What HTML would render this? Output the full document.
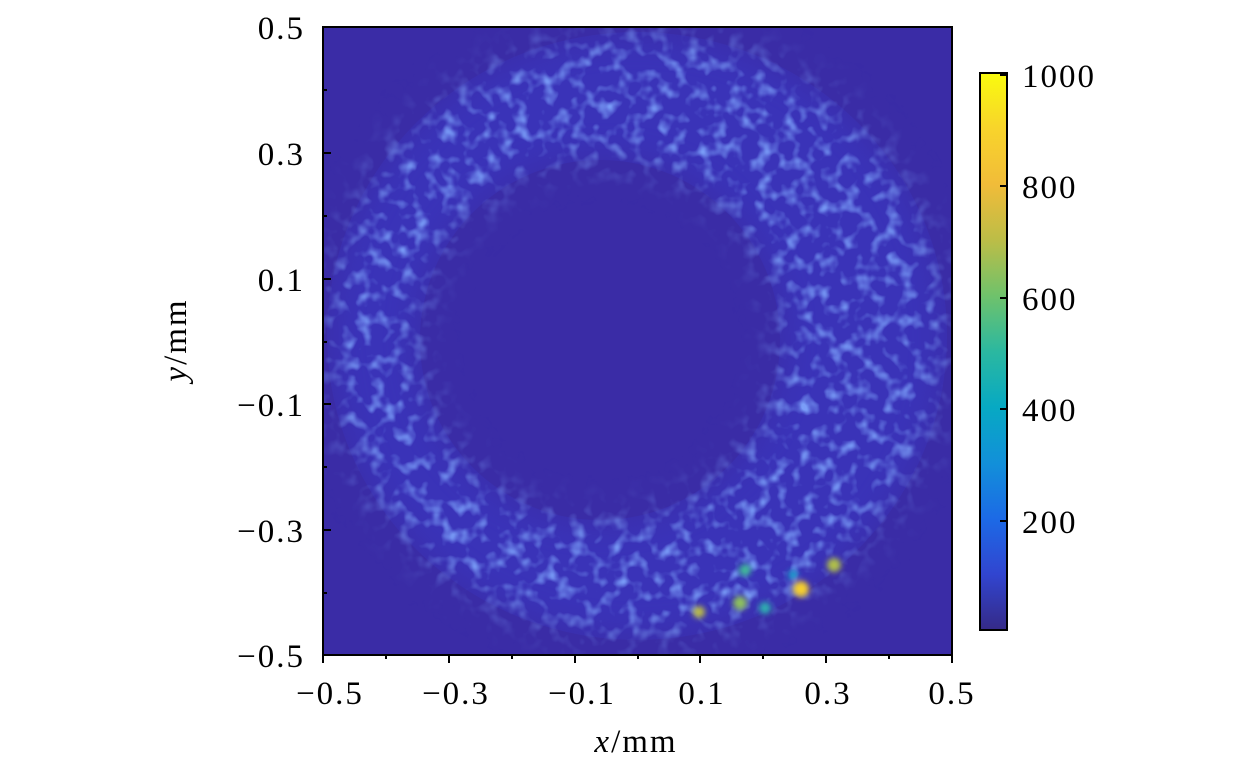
<!DOCTYPE html>
<html><head><style>
html,body{margin:0;padding:0;background:#fff;}
svg{display:block;font-family:"Liberation Serif",serif;}
</style></head><body>
<svg width="1260" height="772" viewBox="0 0 1260 772">
<defs>
<linearGradient id="parula" x1="0" y1="1" x2="0" y2="0">
<stop offset="0" stop-color="#352a87"/>
<stop offset="0.1" stop-color="#3145d0"/>
<stop offset="0.2" stop-color="#1c6ae6"/>
<stop offset="0.3" stop-color="#1290d9"/>
<stop offset="0.4" stop-color="#07a9c3"/>
<stop offset="0.5" stop-color="#2bb8a0"/>
<stop offset="0.6" stop-color="#6fc26b"/>
<stop offset="0.7" stop-color="#bcbd47"/>
<stop offset="0.8" stop-color="#f1bc39"/>
<stop offset="0.9" stop-color="#f8d42b"/>
<stop offset="1" stop-color="#f9fb0e"/>
</linearGradient>
<filter id="blur"><feGaussianBlur stdDeviation="18"/></filter>
<filter id="tex" x="0" y="0" width="1" height="1">
<feTurbulence type="fractalNoise" baseFrequency="0.07" numOctaves="2" seed="3"/>
<feColorMatrix type="matrix" values="0 0 0 0 0.2  0 0 0 0 0.35  0 0 0 0 0.95  0 0 0 2.6 -1.25"/>
</filter>
<clipPath id="plot"><rect x="323" y="27" width="629" height="628"/></clipPath>
<mask id="ringmask">
<path d="M637,32 a310,304 0 1,0 0.1,0 Z M600,160 a180,180 0 1,1 -0.1,0 Z" fill="#fff" fill-rule="evenodd" filter="url(#blur)"/>
</mask>
<filter id="b2"><feGaussianBlur stdDeviation="3"/></filter>
</defs>
<g clip-path="url(#plot)">
<rect x="323" y="27" width="629" height="628" fill="#3a2ca6"/>
<g mask="url(#ringmask)">
<path d="M637,32 a310,304 0 1,0 0.1,0 Z M600,160 a180,180 0 1,1 -0.1,0 Z" fill="#3a33b8" fill-rule="evenodd"/>
<rect x="323" y="27" width="629" height="628" filter="url(#tex)"/>
</g>
<g filter="url(#b2)">
<circle cx="801" cy="589" r="8" fill="#f6cf2e"/>
<circle cx="834" cy="565" r="7" fill="#b0c048"/>
<circle cx="745" cy="570" r="6" fill="#3fba98"/>
<circle cx="740" cy="603" r="7" fill="#8ec15d"/>
<circle cx="699" cy="612" r="6" fill="#bcbd47"/>
<circle cx="765" cy="608" r="6" fill="#2eb0b0"/>
<circle cx="793" cy="575" r="5" fill="#1aa0cc"/>
</g>
</g>
<rect x="323" y="27" width="629" height="628" fill="none" stroke="#000" stroke-width="2"/>
<g stroke="#000" stroke-width="2">
<path d="M323,27h8M323,153h8M323,279h8M323,404h8M323,530h8M323,655h8"/>
<path d="M323,90h4M323,216h4M323,342h4M323,467h4M323,593h4"/>
<path d="M323,655v8M449,655v8M575,655v8M700,655v8M826,655v8M952,655v8"/>
<path d="M386,655v4M512,655v4M638,655v4M763,655v4M889,655v4"/>
</g>
<g font-size="33" fill="#000" letter-spacing="2">
<g text-anchor="end">
<text x="305" y="39">0.5</text>
<text x="305" y="165">0.3</text>
<text x="305" y="291">0.1</text>
<text x="305" y="416">−0.1</text>
<text x="305" y="542">−0.3</text>
<text x="305" y="667">−0.5</text>
</g>
<g text-anchor="middle">
<text x="330" y="704">−0.5</text>
<text x="456" y="704">−0.3</text>
<text x="582" y="704">−0.1</text>
<text x="702" y="704">0.1</text>
<text x="828" y="704">0.3</text>
<text x="952" y="704">0.5</text>
</g>
<text x="636" y="752" text-anchor="middle"><tspan font-style="italic">x</tspan>/mm</text>
<text transform="translate(186,340) rotate(-90)" text-anchor="middle"><tspan font-style="italic">y</tspan>/mm</text>
<text x="1022" y="87">1000</text>
<text x="1022" y="198">800</text>
<text x="1022" y="310">600</text>
<text x="1022" y="421">400</text>
<text x="1022" y="533">200</text>
</g>
<rect x="980" y="73" width="27" height="557" fill="url(#parula)" stroke="#000" stroke-width="2"/>
<g stroke="#000" stroke-width="2">
<path d="M1000,75h7M1000,186h7M1000,298h7M1000,409h7M1000,521h7"/>
</g>
</svg>
</body></html>
